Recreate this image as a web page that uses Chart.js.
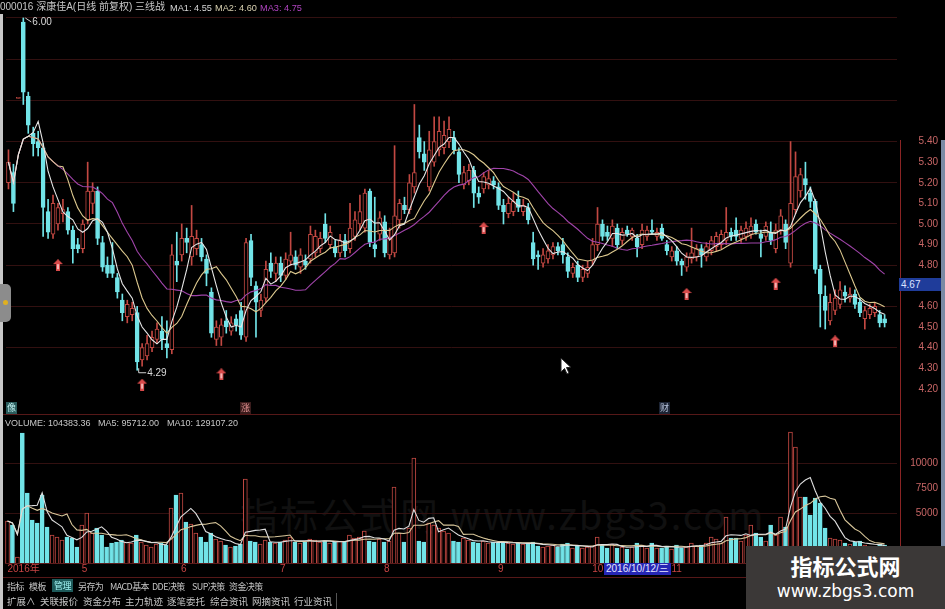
<!DOCTYPE html>
<html lang="zh-CN">
<head>
<meta charset="utf-8">
<title>000016 深康佳A 三线战</title>
<script src="https://cdn.jsdelivr.net/npm/chart.js@4.4.1/dist/chart.umd.min.js"></script>
<style>
  html, body { margin: 0; padding: 0; background: #000; }
  body {
    width: 945px; height: 609px; position: relative; overflow: hidden;
    font-family: "Liberation Sans", "Noto Sans CJK SC", sans-serif; color: #c8c8c8;
  }
  canvas { position: absolute; left: 0; }
  #priceChart { top: 0; }
  #volumeChart { top: 412px; }
  .abs { position: absolute; white-space: nowrap; }
  .hdr { top: 0; font-size: 10px; line-height: 14px; }
  .hdr.ma { font-size: 9.2px; top: 1px; }
  .vhdr { top: 417px; font-size: 9px; line-height: 13px; }
  .line { position: absolute; background: #561818; }
  .tb { position: absolute; font-family: "Noto Sans CJK SC", sans-serif; font-size: 9.5px; line-height: 13px; color: #c4c4c4; }
  .tb.r1 { top: 580px; font-size: 9px; letter-spacing: -0.6px; }
  .tb.r2 { top: 595px; }
  .tag { position: absolute; top: 402px; font-family: "Noto Sans CJK SC", sans-serif; font-size: 9px; line-height: 12px; padding: 0 1px; }
  #faint { left: 240px; top: 486px; font-family: "Noto Sans CJK SC", sans-serif; font-size: 38px; color: #101010; letter-spacing: 2px; }
  #lastPrice { left: 899px; top: 278px; width: 40px; height: 13px; background: #1f3c9a; color: #dde4ff; font-size: 10px; line-height: 13px; padding-left: 2px; }
  #cursorDate { left: 604px; top: 563px; height: 12px; background: #2626b4; color: #e6e6ff; font-size: 10px; line-height: 12px; padding: 0 2px; }
  #brand { left: 746px; top: 546px; width: 199px; height: 63px; background: #3b3837; text-align: center; color: #fff; }
  #brand .cn { font-family: "Noto Sans CJK SC", sans-serif; font-weight: bold; font-size: 22px; line-height: 28px; margin-top: 5px; }
  #brand .url { font-family: "DejaVu Sans", sans-serif; font-size: 17px; line-height: 24px; }
</style>
</head>
<body>

<div class="abs" id="faint">指标公式网 www.zbgs3.com</div>

<canvas id="priceChart" width="945" height="416"></canvas>
<canvas id="volumeChart" width="945" height="166"></canvas>

<!-- header rows -->
<div class="abs hdr" style="left:0">000016 深康佳A(日线 前复权) 三线战</div>
<div class="abs hdr ma" style="left:170px;color:#d8d8d8">MA1: 4.55</div>
<div class="abs hdr ma" style="left:215px;color:#d8d0b0">MA2: 4.60</div>
<div class="abs hdr ma" style="left:260px;color:#b044c0">MA3: 4.75</div>

<div class="abs vhdr" style="left:5px">VOLUME: 104383.36</div>
<div class="abs vhdr" style="left:98px">MA5: 95712.00</div>
<div class="abs vhdr" style="left:167px">MA10: 129107.20</div>

<!-- frame lines -->
<div class="line" style="left:0;top:414px;width:900px;height:1px"></div>
<div class="line" style="left:0;top:577px;width:900px;height:1px"></div>
<div class="line" style="left:900px;top:140px;width:1px;height:438px;background:#8a2424"></div>
<div class="line" style="left:941px;top:140px;width:4px;height:406px;background:#7a8aa4"></div>
<div class="line" style="left:0;top:14px;width:3px;height:595px;background:#c8c8c8"></div>
<div class="abs" style="left:0;top:284px;width:11px;height:38px;background:#8c8c8c;border-radius:0 5px 5px 0"></div>
<div class="abs" style="left:3px;top:300px;width:5px;height:5px;background:#e0b020;border-radius:3px"></div>

<div class="abs" id="lastPrice">4.67</div>
<div class="abs" id="cursorDate">2016/10/12/三</div>

<div class="tag" style="left:6px;background:#2a5c5c;color:#bfefef">像</div>
<div class="tag" style="left:240px;background:#3a1c1c;color:#e09090">涨</div>
<div class="tag" style="left:659px;background:#1c2434;color:#b8c4dc">财</div>

<svg class="abs" style="left:560px;top:357px" width="12" height="18" viewBox="0 0 12 18">
  <polygon points="1,1 1,15 4.5,11.5 7,17 9,16 6.5,10.5 11,10.5" fill="#fff" stroke="#222" stroke-width="1"/>
</svg>

<!-- bottom toolbar -->
<div class="tb r1" style="left:7px">指标</div>
<div class="tb r1" style="left:29px">模板</div>
<div class="tb r1" style="left:52px;top:579px;background:#1d5a5a;color:#9ff0f0;padding:0 2px">管理</div>
<div class="tb r1" style="left:78px">另存为</div>
<div class="tb r1" style="left:110px">MACD基本</div>
<div class="tb r1" style="left:152px">DDE决策</div>
<div class="tb r1" style="left:192px">SUP决策</div>
<div class="tb r1" style="left:229px">资金决策</div>

<div class="tb r2" style="left:7px">扩展∧</div>
<div class="tb r2" style="left:40px">关联报价</div>
<div class="tb r2" style="left:83px">资金分布</div>
<div class="tb r2" style="left:125px">主力轨迹</div>
<div class="tb r2" style="left:167px">逐笔委托</div>
<div class="tb r2" style="left:210px">综合资讯</div>
<div class="tb r2" style="left:252px">网摘资讯</div>
<div class="tb r2" style="left:294px">行业资讯</div>
<div class="line" style="left:336px;top:593px;width:1px;height:16px;background:#555"></div>

<div class="abs" id="brand">
  <div class="cn">指标公式网</div>
  <div class="url">www.zbgs3.com</div>
</div>

<script>
/* ================= DATA (one value per trading day) ================= */

const opens = [
  5.20, 5.25, 5.61, 5.98, 5.62, 5.44, 5.40, 5.37, 5.06, 4.95,
  5.00, 5.05, 5.06, 4.97, 4.90, 4.88, 5.02, 5.10, 5.16, 4.91,
  4.80, 4.80, 4.74, 4.63, 4.55, 4.56, 4.57, 4.34, 4.36, 4.40,
  4.44, 4.48, 4.42, 4.39, 4.82, 4.85, 4.93, 4.84, 4.88, 4.90,
  4.83, 4.67, 4.44, 4.45, 4.53, 4.48, 4.54, 4.58, 4.45, 4.92,
  4.70, 4.58, 4.64, 4.81, 4.76, 4.81, 4.75, 4.82, 4.84, 4.79,
  4.82, 4.83, 4.86, 4.88, 5.00, 4.90, 4.89, 4.86, 4.92, 4.88,
  4.94, 5.00, 4.98, 5.16, 4.90, 4.95, 5.01, 4.85, 4.86, 5.02,
  5.09, 5.07, 5.18, 5.42, 5.34, 5.18, 5.30, 5.36, 5.37, 5.40,
  5.42, 5.35, 5.19, 5.21, 5.26, 5.15, 5.17, 5.19, 5.21, 5.18,
  5.09, 5.05, 5.06, 5.12, 5.06, 5.08, 4.91, 4.85, 4.81, 4.83,
  4.85, 4.89, 4.90, 4.84, 4.76, 4.80, 4.74, 4.76, 4.82, 4.90,
  5.00, 4.96, 4.93, 4.98, 4.92, 4.97, 4.94, 4.93, 4.90, 4.94,
  4.97, 4.94, 4.98, 4.90, 4.84, 4.87, 4.82, 4.79, 4.83, 4.84,
  4.88, 4.84, 4.87, 4.89, 4.90, 4.92, 4.96, 4.97, 4.93, 4.94,
  4.95, 5.00, 4.95, 4.94, 4.96, 4.88, 4.97, 5.00, 4.81, 5.07,
  5.16, 5.22, 5.15, 5.11, 4.78, 4.65, 4.53, 4.58, 4.61, 4.67,
  4.64, 4.66, 4.62, 4.54, 4.56, 4.57, 4.56, 4.54
];

const highs = [
  5.36, 5.29, 5.61, 6.00, 5.64, 5.47, 5.45, 5.39, 5.12, 5.14,
  5.10, 5.12, 5.08, 4.99, 4.93, 5.02, 5.30, 5.20, 5.18, 4.94,
  4.84, 4.91, 4.76, 4.66, 4.63, 4.62, 4.60, 4.42, 4.46, 4.48,
  4.52, 4.55, 4.53, 4.90, 4.96, 5.00, 4.98, 5.09, 4.97, 4.93,
  4.85, 4.69, 4.53, 4.54, 4.58, 4.55, 4.56, 4.62, 4.93, 4.95,
  4.72, 4.66, 4.82, 4.86, 4.84, 4.84, 4.86, 4.96, 4.87, 4.88,
  4.85, 4.99, 4.97, 4.96, 5.05, 4.99, 4.92, 4.95, 4.95, 5.10,
  5.06, 5.14, 5.17, 5.17, 5.13, 5.06, 5.04, 4.98, 5.38, 5.12,
  5.13, 5.24, 5.58, 5.48, 5.40, 5.45, 5.52, 5.52, 5.50, 5.52,
  5.45, 5.37, 5.28, 5.29, 5.28, 5.18, 5.25, 5.26, 5.23, 5.20,
  5.12, 5.13, 5.15, 5.16, 5.12, 5.10, 4.96, 4.87, 4.88, 4.90,
  4.91, 4.91, 4.93, 4.86, 4.81, 4.82, 4.80, 4.82, 4.93, 5.08,
  5.02, 4.99, 5.02, 5.00, 4.98, 4.99, 4.98, 4.95, 5.00, 4.99,
  5.02, 4.98, 5.00, 4.92, 4.89, 4.89, 4.83, 4.86, 4.98, 4.90,
  4.90, 4.91, 4.94, 4.96, 4.97, 5.08, 4.98, 5.03, 4.99, 5.01,
  5.03, 5.02, 4.97, 5.01, 5.01, 5.00, 5.07, 5.02, 5.40, 5.35,
  5.27, 5.30, 5.18, 5.12, 4.80, 4.70, 4.66, 4.68, 4.72, 4.70,
  4.69, 4.68, 4.64, 4.60, 4.61, 4.62, 4.58, 4.56
];

const lows = [
  5.17, 5.06, 5.61, 5.58, 5.44, 5.33, 5.33, 4.94, 4.93, 4.93,
  4.97, 5.01, 4.95, 4.81, 4.86, 4.86, 5.00, 5.05, 4.90, 4.77,
  4.74, 4.74, 4.64, 4.53, 4.52, 4.53, 4.29, 4.31, 4.34, 4.38,
  4.42, 4.39, 4.35, 4.37, 4.72, 4.82, 4.86, 4.80, 4.85, 4.82,
  4.70, 4.45, 4.41, 4.41, 4.47, 4.46, 4.48, 4.44, 4.43, 4.70,
  4.45, 4.55, 4.62, 4.74, 4.72, 4.72, 4.73, 4.80, 4.78, 4.76,
  4.78, 4.81, 4.84, 4.86, 4.91, 4.88, 4.84, 4.84, 4.84, 4.86,
  4.92, 4.97, 4.96, 4.89, 4.84, 4.92, 4.84, 4.83, 4.84, 4.98,
  5.05, 5.05, 5.15, 5.32, 5.26, 5.16, 5.28, 5.33, 5.34, 5.37,
  5.34, 5.20, 5.17, 5.19, 5.08, 5.10, 5.15, 5.17, 5.17, 5.07,
  5.00, 5.03, 5.04, 5.06, 5.04, 5.00, 4.80, 4.78, 4.79, 4.81,
  4.83, 4.85, 4.81, 4.74, 4.74, 4.72, 4.72, 4.74, 4.80, 4.87,
  4.92, 4.92, 4.89, 4.88, 4.90, 4.94, 4.92, 4.84, 4.88, 4.92,
  4.95, 4.92, 4.92, 4.85, 4.82, 4.80, 4.75, 4.77, 4.81, 4.82,
  4.79, 4.82, 4.85, 4.87, 4.88, 4.90, 4.92, 4.92, 4.91, 4.92,
  4.93, 4.95, 4.84, 4.92, 4.90, 4.86, 4.95, 4.88, 4.79, 5.05,
  5.13, 5.12, 5.08, 4.76, 4.50, 4.49, 4.51, 4.56, 4.59, 4.62,
  4.62, 4.59, 4.55, 4.49, 4.54, 4.55, 4.50, 4.50
];

const closes = [
  5.30, 5.10, 5.61, 5.64, 5.48, 5.39, 5.37, 5.08, 4.96, 5.10,
  5.08, 5.07, 4.97, 4.88, 4.88, 5.00, 5.16, 5.16, 4.93, 4.79,
  4.76, 4.76, 4.67, 4.57, 4.61, 4.59, 4.33, 4.40, 4.42, 4.45,
  4.49, 4.44, 4.40, 4.85, 4.80, 4.93, 4.91, 4.94, 4.93, 4.84,
  4.76, 4.47, 4.50, 4.51, 4.50, 4.52, 4.51, 4.46, 4.91, 4.74,
  4.62, 4.63, 4.78, 4.77, 4.81, 4.75, 4.83, 4.85, 4.80, 4.85,
  4.80, 4.95, 4.94, 4.93, 4.93, 4.96, 4.86, 4.92, 4.87, 4.98,
  5.02, 5.06, 5.15, 4.91, 4.88, 5.03, 4.86, 4.93, 5.04, 5.10,
  5.07, 5.20, 5.25, 5.35, 5.30, 5.36, 5.40, 5.45, 5.43, 5.46,
  5.36, 5.24, 5.25, 5.26, 5.15, 5.13, 5.23, 5.22, 5.19, 5.09,
  5.06, 5.10, 5.11, 5.08, 5.09, 5.02, 4.83, 4.84, 4.85, 4.87,
  4.89, 4.87, 4.85, 4.77, 4.79, 4.74, 4.78, 4.79, 4.90, 5.00,
  4.94, 4.94, 4.99, 4.90, 4.96, 4.95, 4.97, 4.89, 4.97, 4.97,
  4.96, 4.96, 4.93, 4.87, 4.87, 4.82, 4.80, 4.84, 4.86, 4.88,
  4.85, 4.89, 4.92, 4.94, 4.95, 4.96, 4.94, 4.94, 4.97, 4.98,
  4.99, 4.96, 4.93, 4.99, 4.92, 4.97, 5.04, 4.91, 5.10, 5.23,
  5.24, 5.19, 5.11, 4.78, 4.66, 4.58, 4.62, 4.64, 4.68, 4.65,
  4.66, 4.61, 4.57, 4.58, 4.59, 4.60, 4.52, 4.52
];

// volume, in the units of the right-hand volume axis
const volumes = [
  4200, 3800, 600, 13000, 7000, 4300, 4000, 6800, 3600, 2800,
  2600, 2300, 2600, 2500, 1600, 3800, 5000, 3000, 3500, 2800,
  1600, 2000, 2100, 2300, 2100, 2000, 2800, 2100, 1800, 1600,
  1900, 2000, 1800, 5500, 6800, 7000, 4100, 3900, 3000, 2600,
  2100, 3000, 2400, 2200, 1800, 1600, 1700, 1900, 8400, 2200,
  2100, 1900, 2300, 2100, 2000, 2100, 2300, 2600, 2100, 2000,
  2100, 2400, 2300, 2100, 2200, 2000, 2100, 2200, 2100, 2800,
  2500, 2600, 3200, 2200, 2100, 2400, 2100, 2200, 7600, 3000,
  2100, 3500, 10500, 2200, 2100, 4000, 3800, 3500, 3200, 3000,
  2200, 2100, 2500, 2300, 2100, 2000, 2200, 2000, 2100, 2000,
  2100, 2000, 1900, 2000, 1900, 2000, 2100, 1700, 1600, 1700,
  1800, 1600, 1900, 2000, 1500, 1700, 1500, 1600, 1700, 2600,
  1800, 1500, 1900, 1500, 1600, 1400, 1600, 2000, 1800, 1500,
  2000, 1500, 1500, 1700, 1400, 1800, 1500, 1600, 2000, 1700,
  1800, 2000, 2600, 2400, 2000, 4600, 2500, 2500, 2200, 2800,
  3800, 3000, 2600, 2200, 3800, 2800, 4600, 3600, 13100, 11600,
  6600, 6600, 4800, 6500, 6000, 3500, 2500, 2400, 2300, 2000,
  1900, 2100, 2200, 1800, 1700, 1600, 1900, 1800
];

// date row: index of the first trading day of each month
const SLOTS = 180;
const monthStarts = [0, 15, 35, 55, 76, 99, 118, 134, 156];
const monthNames = ['2016年', '5', '6', '7', '8', '9', '10', '11', '12'];

// buy-signal arrows (day index, price)
const signalIdx = [10, 27, 43, 96, 137, 155, 167];
const signalPrice = [4.80, 4.22, 4.27, 4.98, 4.66, 4.71, 4.43];

// axis ticks
const priceTicks = [4.2, 4.3, 4.4, 4.5, 4.6, 4.7, 4.8, 4.9, 5.0, 5.1, 5.2, 5.3, 5.4,
                    5.5, 5.6, 5.7, 5.8, 5.9, 6.0];
const volumeTicks = [5000, 7500, 10000];

// moving-average periods of the 三线战 indicator and of the volume panel
const MA_PERIODS = [5, 10, 20];
const VOL_MA_PERIODS = [5, 10];

/* ================= HELPERS ================= */

const CYAN = '#72e4e8';
const RED = '#c24842';
const GRID = '#321010';
const AXIS_TXT = '#c86666';

function movingAverage(values, period) {
  return values.map((_, i) => {
    const win = values.slice(Math.max(0, i - period + 1), i + 1);
    return win.reduce((a, b) => a + b, 0) / win.length;
  });
}

function makeArrow() {
  const c = document.createElement('canvas');
  c.width = 10;
  c.height = 12;
  const g = c.getContext('2d');
  g.fillStyle = '#d84a4a';
  g.beginPath();
  g.moveTo(5, 0); g.lineTo(10, 5); g.lineTo(7, 5); g.lineTo(7, 12);
  g.lineTo(3, 12); g.lineTo(3, 5); g.lineTo(0, 5); g.closePath();
  g.fill();
  g.fillStyle = '#f4b4b4';
  g.fillRect(4, 5, 2, 5);
  return c;
}

const labels = Array.from({ length: SLOTS }, () => '');
monthStarts.forEach((idx, k) => { labels[idx] = monthNames[k]; });

const isUp = closes.map((c, i) => c >= opens[i]);
const bodies = opens.map((o, i) => [o, closes[i]]);
const wicks = lows.map((l, i) => [l, highs[i]]);
const [ma1, ma2, ma3] = MA_PERIODS.map(p => movingAverage(closes, p));
const [volMa5, volMa10] = VOL_MA_PERIODS.map(p => movingAverage(volumes, p));

const signalSeries = closes.map(() => null);
signalIdx.forEach((idx, k) => { signalSeries[idx] = signalPrice[k]; });

const tickFont = { family: 'Liberation Sans', size: 10 };

// labels for the highest high and the lowest low
const extremeLabels = {
  id: 'extremeLabels',
  afterDatasetsDraw(chart) {
    const { ctx, scales: { x, y } } = chart;
    const hi = Math.max(...highs);
    const lo = Math.min(...lows);
    const hx = x.getPixelForValue(highs.indexOf(hi));
    const hy = y.getPixelForValue(hi);
    const lx = x.getPixelForValue(lows.indexOf(lo));
    const ly = y.getPixelForValue(lo);

    ctx.save();
    ctx.strokeStyle = '#cfcfcf';
    ctx.fillStyle = '#d8d8d8';
    ctx.lineWidth = 1;
    ctx.font = '10px "Liberation Sans"';
    ctx.textBaseline = 'middle';

    ctx.beginPath();
    ctx.moveTo(hx + 2, hy);
    ctx.lineTo(hx + 8, hy + 4);
    ctx.stroke();
    ctx.fillText(hi.toFixed(2), hx + 9, hy + 4);

    ctx.beginPath();
    ctx.moveTo(lx + 1.5, ly - 2);
    ctx.lineTo(lx + 1.5, ly + 2.5);
    ctx.lineTo(lx + 9, ly + 2.5);
    ctx.stroke();
    ctx.fillText(lo.toFixed(2), lx + 10, ly + 3);
    ctx.restore();
  }
};

function maLine(data, color) {
  return {
    type: 'line', data, borderColor: color, borderWidth: 1.1,
    pointRadius: 0, tension: 0, order: 0
  };
}

// right-hand value axis: labels right-aligned at x = 938, plot ends at x = 897
function rightAxis(extra) {
  return Object.assign({
    position: 'right',
    afterFit: s => { s.width = 41; },
    border: { display: false }
  }, extra);
}

/* ================= PRICE PANEL ================= */

new Chart(document.getElementById('priceChart'), {
  type: 'bar',
  data: {
    labels,
    datasets: [
      maLine(ma1, '#e6e6e6'),
      maLine(ma2, '#dcc88e'),
      maLine(ma3, '#a044aa'),
      {
        type: 'line', data: signalSeries, showLine: false,
        pointStyle: makeArrow(), pointRadius: 5, order: 0
      },
      {
        data: bodies,
        backgroundColor: isUp.map(u => (u ? '#000' : CYAN)),
        borderColor: isUp.map(u => (u ? RED : CYAN)),
        borderWidth: 1,
        borderSkipped: false,
        barThickness: 4,
        minBarLength: 1,
        grouped: false,
        order: 1
      },
      {
        data: wicks,
        backgroundColor: isUp.map(u => (u ? RED : CYAN)),
        borderWidth: 0,
        barThickness: 1,
        minBarLength: 1,
        grouped: false,
        order: 2
      }
    ]
  },
  options: {
    responsive: false,
    animation: false,
    events: [],
    layout: { padding: { left: 5, right: 7, top: 12, bottom: 0 } },
    plugins: { legend: { display: false }, tooltip: { enabled: false } },
    scales: {
      x: { display: false },
      y: rightAxis({
        min: 4.097,
        max: 6.029,
        afterBuildTicks: s => { s.ticks = priceTicks.map(v => ({ value: v })); },
        grid: {
          drawTicks: false,
          color: c => (Math.round(c.tick.value * 10) % 2 === 0 && c.tick.value > 4.3 ? GRID : 'transparent')
        },
        ticks: {
          color: AXIS_TXT, font: tickFont, padding: 0, crossAlign: 'far',
          callback: v => (v <= 5.45 ? v.toFixed(2) : '')
        }
      })
    }
  },
  plugins: [extremeLabels]
});

/* ================= VOLUME PANEL ================= */

new Chart(document.getElementById('volumeChart'), {
  type: 'bar',
  data: {
    labels,
    datasets: [
      maLine(volMa5, '#dedede'),
      maLine(volMa10, '#d8c69a'),
      {
        data: volumes,
        backgroundColor: isUp.map(u => (u ? '#000' : CYAN)),
        borderColor: isUp.map(u => (u ? RED : CYAN)),
        borderWidth: 1,
        barThickness: 4,
        order: 1
      }
    ]
  },
  options: {
    responsive: false,
    animation: false,
    events: [],
    layout: { padding: { left: 5, right: 7, top: 16, bottom: 0 } },
    plugins: { legend: { display: false }, tooltip: { enabled: false } },
    scales: {
      x: {
        afterFit: s => { s.height = 15; },
        grid: { display: false, drawTicks: false },
        border: { display: true, color: '#5e1c1c' },
        ticks: {
          autoSkip: false,
          maxRotation: 0,
          align: 'start',
          padding: 0,
          color: '#c84444',
          font: { family: '"Liberation Sans", "Noto Sans CJK SC"', size: 10 }
        }
      },
      y: rightAxis({
        min: 0,
        max: 13500,
        afterBuildTicks: s => { s.ticks = volumeTicks.map(v => ({ value: v })); },
        grid: {
          drawTicks: false,
          color: c => (c.tick.value === 7500 ? 'transparent' : GRID)
        },
        ticks: {
          color: AXIS_TXT, font: tickFont, padding: 0, crossAlign: 'far',
          callback: v => String(v)
        }
      })
    }
  }
});
</script>
</body>
</html>
